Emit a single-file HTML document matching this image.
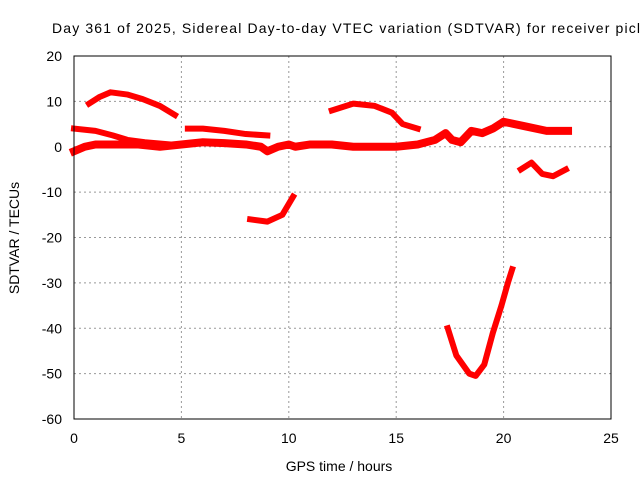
<!DOCTYPE html>
<html><head><meta charset="utf-8"><style>
body{margin:0;background:#fff;overflow:hidden;}
svg{display:block;font-family:"Liberation Sans",sans-serif;font-size:14px;}
</style></head><body>
<svg id="chart" width="640" height="480">
<text x="52" y="33" textLength="588" lengthAdjust="spacing">Day 361 of 2025, Sidereal Day-to-day VTEC variation (SDTVAR) for receiver picl</text>
<text x="339" y="471" text-anchor="middle">GPS time / hours</text>
<text transform="translate(19,238) rotate(-90)" text-anchor="middle">SDTVAR / TECUs</text>
<g id="grid"></g><g id="series"></g>
<rect x="74" y="56" width="537" height="363" fill="none" stroke="#000" stroke-width="1"/>
</svg>
<script>
const xTicks=[0,5,10,15,20,25];
const yTicks=[20,10,0,-10,-20,-30,-40,-50,-60];
const segUpperArcX=[0.7,1.2,1.7,2.5,3.2,4.0,4.7];
const segUpperArcY=[9.5,11,12,11.5,10.5,9,7];
const segEarlyX=[0,1,1.8,2.5,3.3,4.5];
const segEarlyY=[4,3.5,2.5,1.5,1,0.5];
const baseX=[0,0.5,1,2,3,4,5,6,7,8,8.7,9,9.5,10,10.3,11,12,13,14,15,16,16.8,17.3,17.6,18,18.5,19,19.5,20,21,22,23];
const baseY=[-1,0,0.5,0.5,0.5,0,0.5,1,0.8,0.5,0,-1,0,0.5,0,0.5,0.5,0,0,0,0.5,1.5,3,1.5,1,3.5,3,4,5.5,4.5,3.5,3.5];
const segMidX=[5.3,6,7,8,9];
const segMidY=[4,4,3.5,2.8,2.5];
const segLowX=[8.2,9,9.7,10.2];
const segLowY=[-16,-16.5,-15,-11];
const segNoonX=[12,13,14,14.8,15.3,16];
const segNoonY=[8,9.5,9,7.5,5,4];
const segLateX=[20.8,21.3,21.8,22.3,22.9];
const segLateY=[-5,-3.5,-6,-6.5,-5];
const segDipX=[17.4,17.8,18.4,18.7,19.1,19.5,19.9,20.2,20.4];
const segDipY=[-40,-46,-50,-50.5,-48,-41,-35,-30,-27];
const NS='http://www.w3.org/2000/svg';
const sx=v=>74+v*(537/25);
const sy=v=>56+(20-v)*(363/80);
const g=document.getElementById('grid'), s=document.getElementById('series');
function mk(tag,attrs,parent){const e=document.createElementNS(NS,tag);for(const k in attrs)e.setAttribute(k,attrs[k]);parent.appendChild(e);return e;}
xTicks.forEach(t=>{
 if(t>0&&t<25){const l=mk('line',{x1:sx(t),x2:sx(t),y1:56,y2:419,stroke:'#999','stroke-dasharray':'2,3'},g);
 
 }
 const tx=mk('text',{x:sx(t),y:443,'text-anchor':'middle'},g);tx.textContent=t;
 
 
});
yTicks.forEach(t=>{
 if(t<20&&t>-60){const l=mk('line',{x1:74,x2:611,y1:sy(t),y2:sy(t),stroke:'#999','stroke-dasharray':'2,3'},g);
 
 }
 const tx=mk('text',{x:62,y:sy(t)+5,'text-anchor':'end'},g);tx.textContent=t;
 
 
});
const segs=[[segUpperArcX,segUpperArcY,6],[segEarlyX,segEarlyY,6],[baseX,baseY,8],[segMidX,segMidY,6],[segLowX,segLowY,6],[segNoonX,segNoonY,6],[segLateX,segLateY,6],[segDipX,segDipY,6]];
segs.forEach(([xs,ys,w])=>{
 const p=mk('polyline',{points:xs.map((x,i)=>sx(x)+','+sy(ys[i])).join(' '),fill:'none',stroke:'#f00','stroke-width':w,'stroke-linejoin':'round','stroke-linecap':'square'},s);
 
 
});
</script>
</body></html>
